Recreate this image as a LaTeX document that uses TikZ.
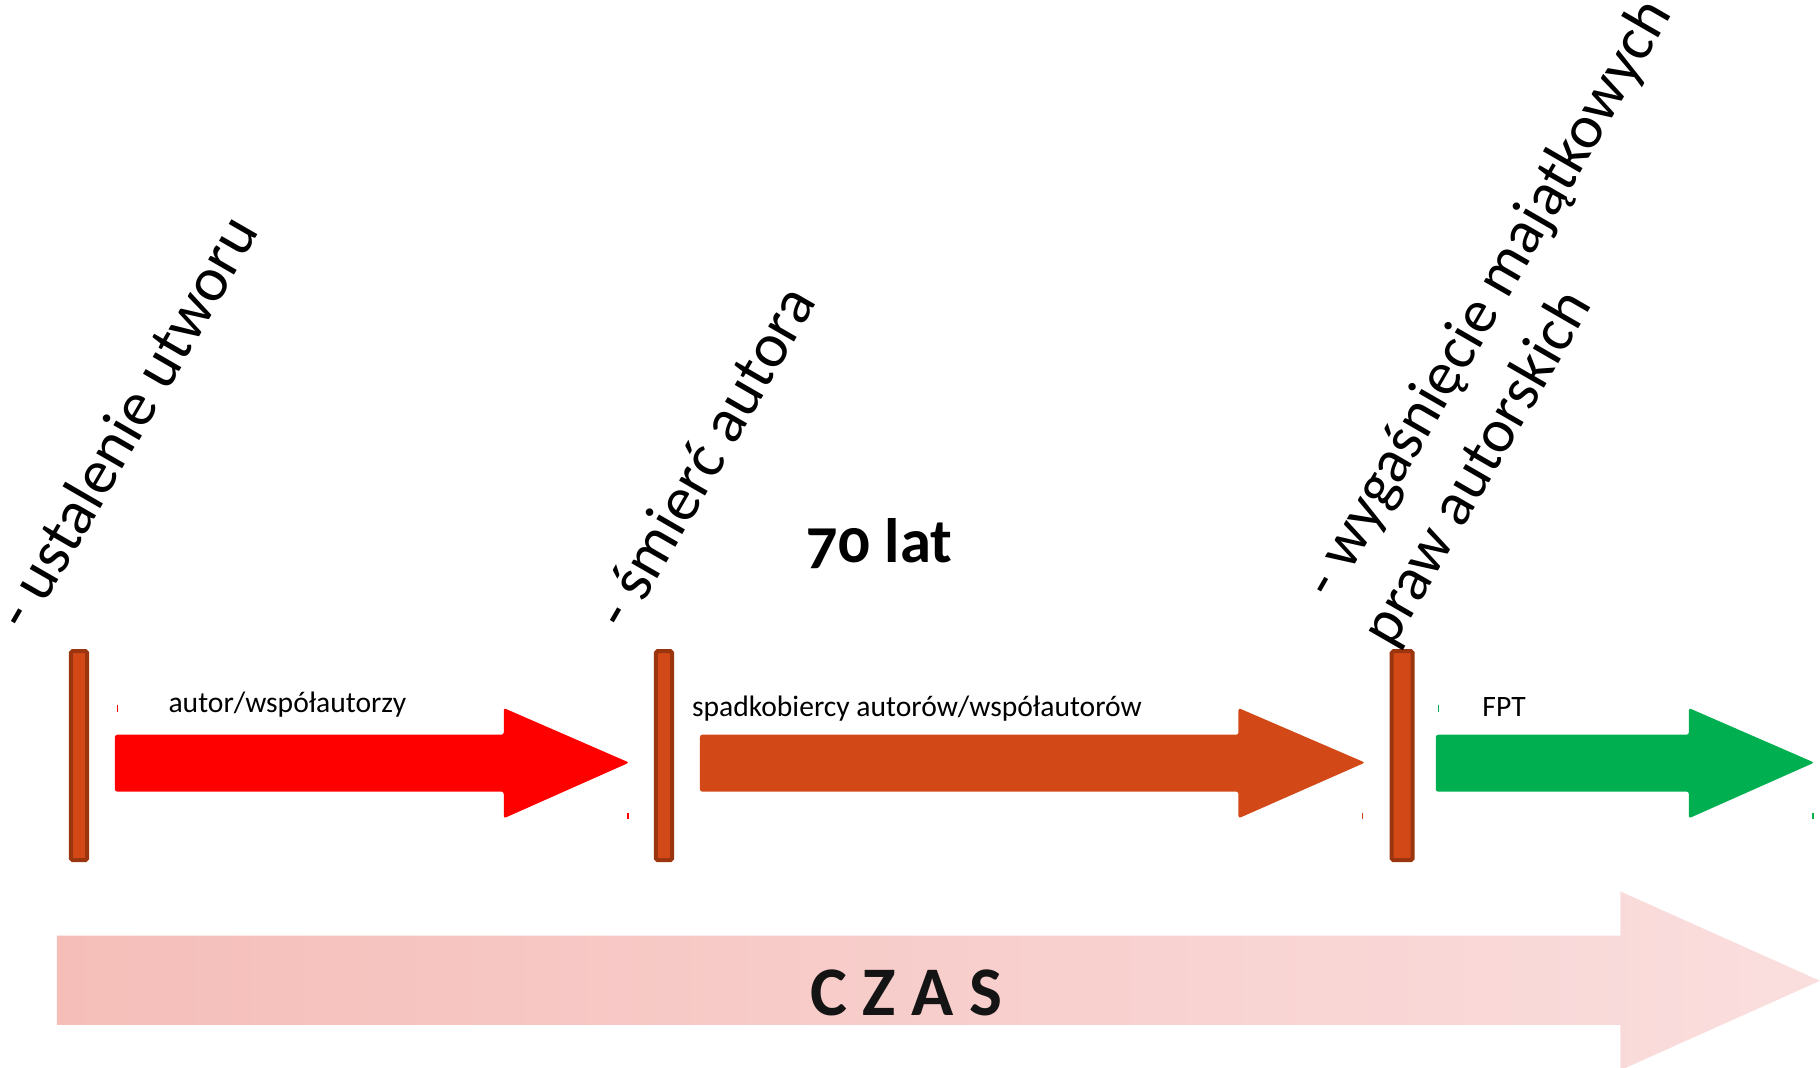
\documentclass[tikz,border=0pt]{standalone}
\usepackage{fontspec}
\setmainfont{Carlito}
\definecolor{barfill}{HTML}{D34817}
\definecolor{barline}{HTML}{9B3510}
\definecolor{redar}{HTML}{FF0000}
\definecolor{orangear}{HTML}{D34817}
\definecolor{greenar}{HTML}{00B050}
\definecolor{czasL}{HTML}{F5BEB9}
\definecolor{czasR}{HTML}{FADEDE}
\tikzset{
  marker/.style={fill=barfill, draw=barline, line width=3.5pt, rounded corners=1.5pt},
  bigarrow/.style={rounded corners=2pt},
  tick/.style={line width=1pt},
  smalllabel/.style={font=\fontsize{25.5}{30}\selectfont, inner sep=0pt, anchor=base west},
  eventlabel/.style={font=\fontsize{54}{60}\selectfont, inner sep=0pt, anchor=base west, rotate=60},
}
\begin{document}
\begin{tikzpicture}[x=1pt,y=-1pt]
\useasboundingbox (0,0) rectangle (1568,920);
% CZAS arrow
\shade[left color=czasL, right color=czasR]
  (49,806) -- (1396,806) -- (1396,768) -- (1568,845) -- (1396,922) -- (1396,883) -- (49,883) -- cycle;
\node[font=\fontsize{60}{70}\selectfont\bfseries, inner sep=0pt, text=black!92] (czas) at (781,855) {C Z A S};
% event arrows
\fill[redar, bigarrow] (99,633) -- (434,633) -- (434,610) -- (542,657) -- (434,705) -- (434,682) -- (99,682) -- cycle;
\fill[orangear, bigarrow] (603,633) -- (1067,633) -- (1067,610) -- (1176,657) -- (1067,705) -- (1067,682) -- (603,682) -- cycle;
\fill[greenar, bigarrow] (1237,633) -- (1455,633) -- (1455,610) -- (1563,657) -- (1455,705) -- (1455,682) -- (1237,682) -- cycle;
% tiny ticks
\draw[tick, redar] (101,607) -- (101,613);
\draw[tick, redar] (541,700) -- (541,706);
\draw[tick, orangear] (1174,700) -- (1174,706);
\draw[tick, greenar] (1239,607) -- (1239,613);
\draw[tick, greenar] (1562,700) -- (1562,706);
% markers
\draw[marker] (61,561) rectangle (75,741);
\draw[marker] (565,561) rectangle (579,741);
\draw[marker] (1199,561) rectangle (1217,741);
% labels
\node[smalllabel] (l1) at (145,614) {autor/współautorzy};
\node[smalllabel] (l2) at (596,617) {spadkobiercy autorów/współautorów};
\node[smalllabel] (l3) at (1277,617) {FPT};
\node[font=\fontsize{54}{60}\selectfont\bfseries\addfontfeature{Numbers=OldStyle}, inner sep=0pt, anchor=base west] (lat) at (695,485) {70 lat};
% rotated event labels
\node[eventlabel] (e1) at (24,546) {- ustalenie utworu};
\node[eventlabel] (e2) at (540,545) {- śmierć autora};
\node[eventlabel, font=\fontsize{53}{60}\selectfont] (e3a) at (1149,518) {- wygaśnięcie majątkowych};
\node[eventlabel, font=\fontsize{53}{60}\selectfont] (e3b) at (1200,560) {praw autorskich};
\end{tikzpicture}
\end{document}
